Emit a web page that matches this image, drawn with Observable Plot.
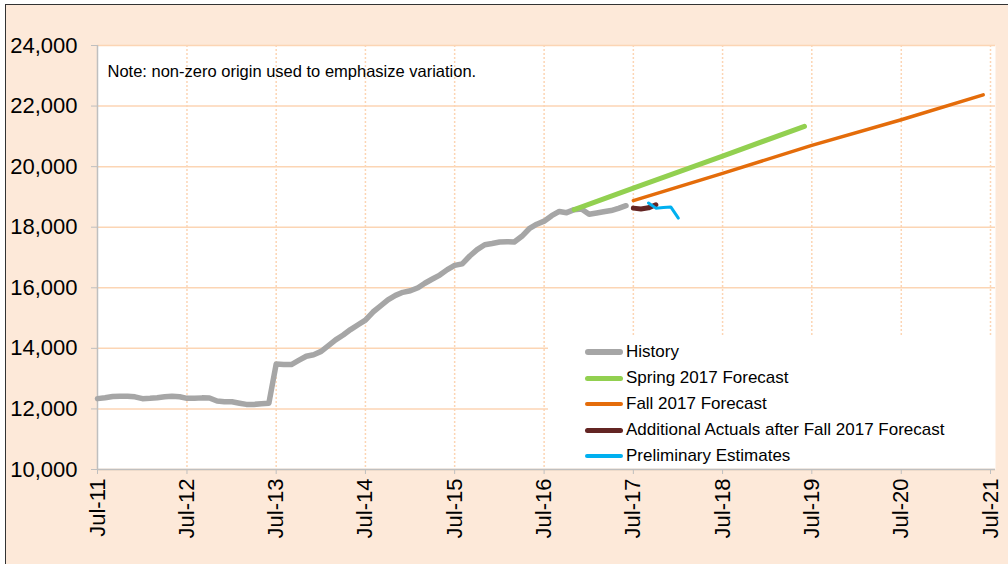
<!DOCTYPE html>
<html>
<head>
<meta charset="utf-8">
<script src="https://cdn.jsdelivr.net/npm/d3@7"></script>
<script src="https://cdn.jsdelivr.net/npm/@observablehq/plot@0.6"></script>
<style>
  body { margin: 0; background: #fff; }
  #wrap { position: relative; width: 1008px; height: 564px; overflow: hidden; font-family: "Liberation Sans", Arial, sans-serif; }
  #panel { position: absolute; left: 5px; top: 4px; width: 1020px; height: 580px; border-left: 1.5px solid #333; border-top: 1.5px solid #333; background: #fde9d9; }
  #chart { position: absolute; left: 0; top: 0; }
  #legend { position: absolute; left: 548px; top: 336px; width: 447px; height: 132px; background: #fff; padding-top: 3px; box-sizing: border-box; }
  .row { display: flex; align-items: center; height: 26px; }
  .sw { width: 38px; margin-left: 37px; margin-right: 3px; border-radius: 3px; }
  .lab { font-size: 17px; color: #000; white-space: nowrap; }
</style>
</head>
<body>
<div id="wrap">
  <div id="panel"></div>
  <div id="chart"></div>
  <div id="legend"></div>
</div>
<script>
// ---- data ----
const historyStart = "2011-07-01"; // monthly series
const historyValues = [
  12340, 12370, 12410, 12420, 12420, 12400, 12340, 12350, 12370, 12400, 12420, 12400,
  12350, 12355, 12365, 12360, 12260, 12235, 12235, 12190, 12150, 12150, 12170, 12185,
  13480, 13470, 13465, 13600, 13740, 13790, 13900, 14100, 14280, 14440, 14620, 14780,
  14930, 15200, 15400, 15600, 15750, 15850, 15900, 16000, 16150, 16290, 16420, 16600,
  16740, 16790, 17050, 17260, 17420, 17460, 17510, 17520, 17510, 17700, 17950, 18100,
  18200, 18380, 18520, 18480, 18580, 18600, 18430, 18470, 18510, 18550, 18625, 18710
];
const springDates = ["2016-11-01", "2017-07-01", "2018-07-01", "2019-06-01"];
const springValues = [18580, 19290, 20350, 21330];
const fallDates = ["2017-07-01", "2018-07-01", "2019-07-01", "2020-07-01", "2021-06-01"];
const fallValues = [18880, 19780, 20700, 21550, 22370];
const actualDates = ["2017-07-01", "2017-08-01", "2017-09-01", "2017-10-01"];
const actualValues = [18630, 18600, 18640, 18740];
const prelimDates = ["2017-09-01", "2017-10-01", "2017-11-01", "2017-12-01", "2018-01-01"];
const prelimValues = [18800, 18630, 18650, 18670, 18300];

const xTickDates = ["2011-07-01", "2012-07-01", "2013-07-01", "2014-07-01", "2015-07-01",
  "2016-07-01", "2017-07-01", "2018-07-01", "2019-07-01", "2020-07-01", "2021-07-01"];
const yTicks = [10000, 12000, 14000, 16000, 18000, 20000, 22000, 24000];

const seriesNames = ["History", "Spring 2017 Forecast", "Fall 2017 Forecast",
  "Additional Actuals after Fall 2017 Forecast", "Preliminary Estimates"];
const seriesColors = ["#a6a6a6", "#92d050", "#e46c0a", "#632523", "#00b0f0"];
const seriesWidths = [5.5, 5, 3.5, 5, 3];
const noteText = "Note: non-zero origin used to emphasize variation.";

// ---- build tables ----
const parse = d3.utcParse("%Y-%m-%d");
const h0 = parse(historyStart);
const history = historyValues.map((v, i) => ({date: d3.utcMonth.offset(h0, i), value: v}));
const zip = (ds, vs) => ds.map((d, i) => ({date: parse(d), value: vs[i]}));
const spring = zip(springDates, springValues);
const fall = zip(fallDates, fallValues);
const actual = zip(actualDates, actualValues);
const prelim = zip(prelimDates, prelimValues);
const xTicks = xTickDates.map(parse);
const series = [history, spring, fall, actual, prelim];

const lineOpts = (i) => ({x: "date", y: "value", stroke: seriesColors[i], strokeWidth: seriesWidths[i],
  strokeLinecap: "round", strokeLinejoin: "round"});

const chart = Plot.plot({
  width: 1008,
  height: 564,
  marginLeft: 97,
  marginRight: 13,
  marginTop: 45,
  marginBottom: 95,
  style: {background: "transparent", fontFamily: "'Liberation Sans', Arial, sans-serif", color: "#000"},
  x: {type: "utc", domain: [xTicks[0], xTicks[xTicks.length - 1]], range: [97, 990]},
  y: {domain: [yTicks[0], yTicks[yTicks.length - 1]]},
  marks: [
    Plot.frame({fill: "#fff", stroke: "none"}),
    Plot.gridY(yTicks, {stroke: "#fcd5b4", strokeOpacity: 1, strokeWidth: 1.5}),
    Plot.gridX(xTicks.slice(1), {stroke: "#fcd5b4", strokeOpacity: 1, strokeWidth: 1.5, strokeDasharray: "2,2"}),
    Plot.ruleX([xTicks[0]], {stroke: "#bfbfbf", strokeWidth: 1.5}),
    Plot.ruleY([yTicks[0]], {stroke: "#bfbfbf", strokeWidth: 1.5}),
    Plot.axisY(yTicks, {label: null, tickSize: 6, tickPadding: 14, fontSize: 22, stroke: "#bfbfbf", fill: "#000",
      tickFormat: d3.format(",")}),
    Plot.axisX(xTicks, {label: null, tickSize: 5, tickPadding: 4, fontSize: 22, tickRotate: -90,
      stroke: "#bfbfbf", fill: "#000", tickFormat: d3.utcFormat("%b-%y")}),
    ...series.map((s, i) => Plot.line(s, lineOpts(i))),
    Plot.text([noteText], {text: d => d, frameAnchor: "top-left", dx: 10, dy: 20, fontSize: 16.5,
      textAnchor: "start", lineAnchor: "top", fill: "#000"})
  ]
});
document.getElementById("chart").appendChild(chart);

// legend
const legend = document.getElementById("legend");
seriesNames.forEach((name, i) => {
  const row = document.createElement("div");
  row.className = "row";
  const sw = document.createElement("span");
  sw.className = "sw";
  sw.style.background = seriesColors[i];
  sw.style.height = Math.max(4, seriesWidths[i]) + "px";
  const lab = document.createElement("span");
  lab.className = "lab";
  lab.textContent = name;
  row.appendChild(sw);
  row.appendChild(lab);
  legend.appendChild(row);
});
</script>
</body>
</html>
